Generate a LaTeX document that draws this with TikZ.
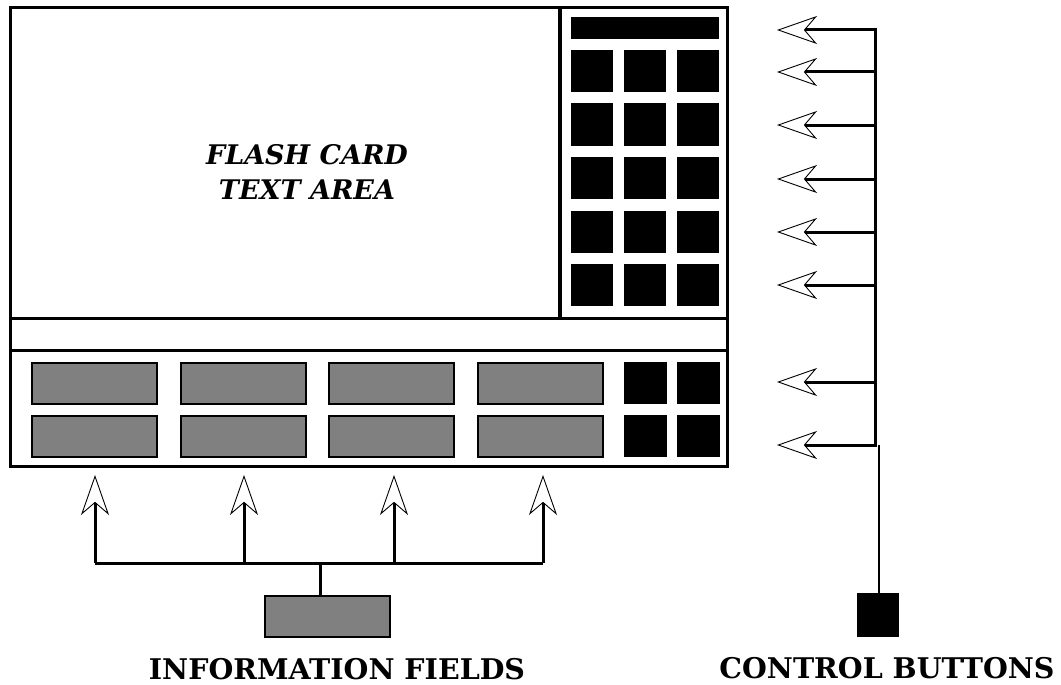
\documentclass[tikz,border=0pt]{standalone}
\usepackage{fontspec}
\setmainfont{DejaVu Serif}
\usetikzlibrary{arrows.meta}
\tikzset{
  frameline/.style={line width=3pt, line join=miter},
  keybtn/.style={fill=black, draw=none, minimum width=42pt, minimum height=42pt, inner sep=0pt, outer sep=0pt},
  fieldbox/.style={draw=black, line width=2pt, fill=black!50, minimum width=125pt, minimum height=41pt, inner sep=0pt},
  conn/.style={line width=3pt},
  thinconn/.style={line width=1.6pt},
  opentip/.style={-{Stealth[open, length=40pt, width=28pt, inset=12pt, line width=0.9pt]}},
  biglabel/.style={font=\bfseries\fontsize{28.5}{32}\selectfont, inner sep=0pt},
  arealabel/.style={font=\bfseries\itshape\fontsize{27}{35}\selectfont, align=center, inner sep=0pt}
}
\begin{document}
\begin{tikzpicture}[x=1pt, y=-1pt]
\useasboundingbox (0,0) rectangle (1061,685);
% main frame
\draw[frameline] (10,8) rectangle (727,466);
\draw[frameline] (10,318) -- (727,318);
\draw[frameline] (10,350) -- (727,350);
\draw[line width=4pt] (560,8) -- (560,318);
% text area
\node[arealabel] (area) at (307,172) {FLASH CARD\\TEXT AREA};
% keypad
\node[keybtn, minimum width=148pt, minimum height=22pt] (bar) at (645,28) {};
\foreach \r/\y in {1/71,2/124.5,3/178,4/231.5,5/285}{
  \foreach \c/\x in {1/592,2/645,3/698}{
    \node[keybtn] (k\r\c) at (\x,\y) {};
  }
}
% bottom area
\foreach \r/\y in {1/383,2/436}{
  \foreach \c/\x in {1/94,2/243,3/391.5,4/540}{
    \node[fieldbox] (f\r\c) at (\x,\y) {};
  }
  \node[keybtn, minimum width=43pt] (b\r1) at (645.5,\y) {};
  \node[keybtn, minimum width=43pt] (b\r2) at (698.5,\y) {};
}
% information fields
\node[fieldbox] (ibox) at (327,616) {};
\node[biglabel] (ilabel) at (337,669) {INFORMATION FIELDS};
\coordinate (ijoin) at (320,563);
\foreach \i/\x in {1/95,2/244,3/394,4/543}{
  \coordinate (it\i) at (\x,475);
  \coordinate (ib\i) at (\x,563);
}
\draw[conn] (ib1) -- (ib4);
\draw[conn] (ijoin) -- (ijoin |- ibox.north);
\foreach \i in {1,2,3,4}{
  \draw[conn, opentip] (ib\i) -- (it\i);
}
% control buttons
\node[keybtn, minimum width=42pt, minimum height=44pt] (cbox) at (878,615) {};
\node[biglabel] (clabel) at (887,668) {CONTROL BUTTONS};
\foreach \i/\y in {1/30,2/72,3/125,4/179,5/232,6/285,7/382,8/445}{
  \coordinate (cs\i) at (875,\y);
  \coordinate (ct\i) at (777,\y);
  \draw[conn, opentip] (cs\i) -- (ct\i);
}
\draw[conn] ([yshift=1.5pt]cs1) -- ([yshift=-1.5pt]cs8);
\coordinate (cstem) at (879,445);
\draw[thinconn] (cstem) -- (cstem |- cbox.north);
\end{tikzpicture}
\end{document}
